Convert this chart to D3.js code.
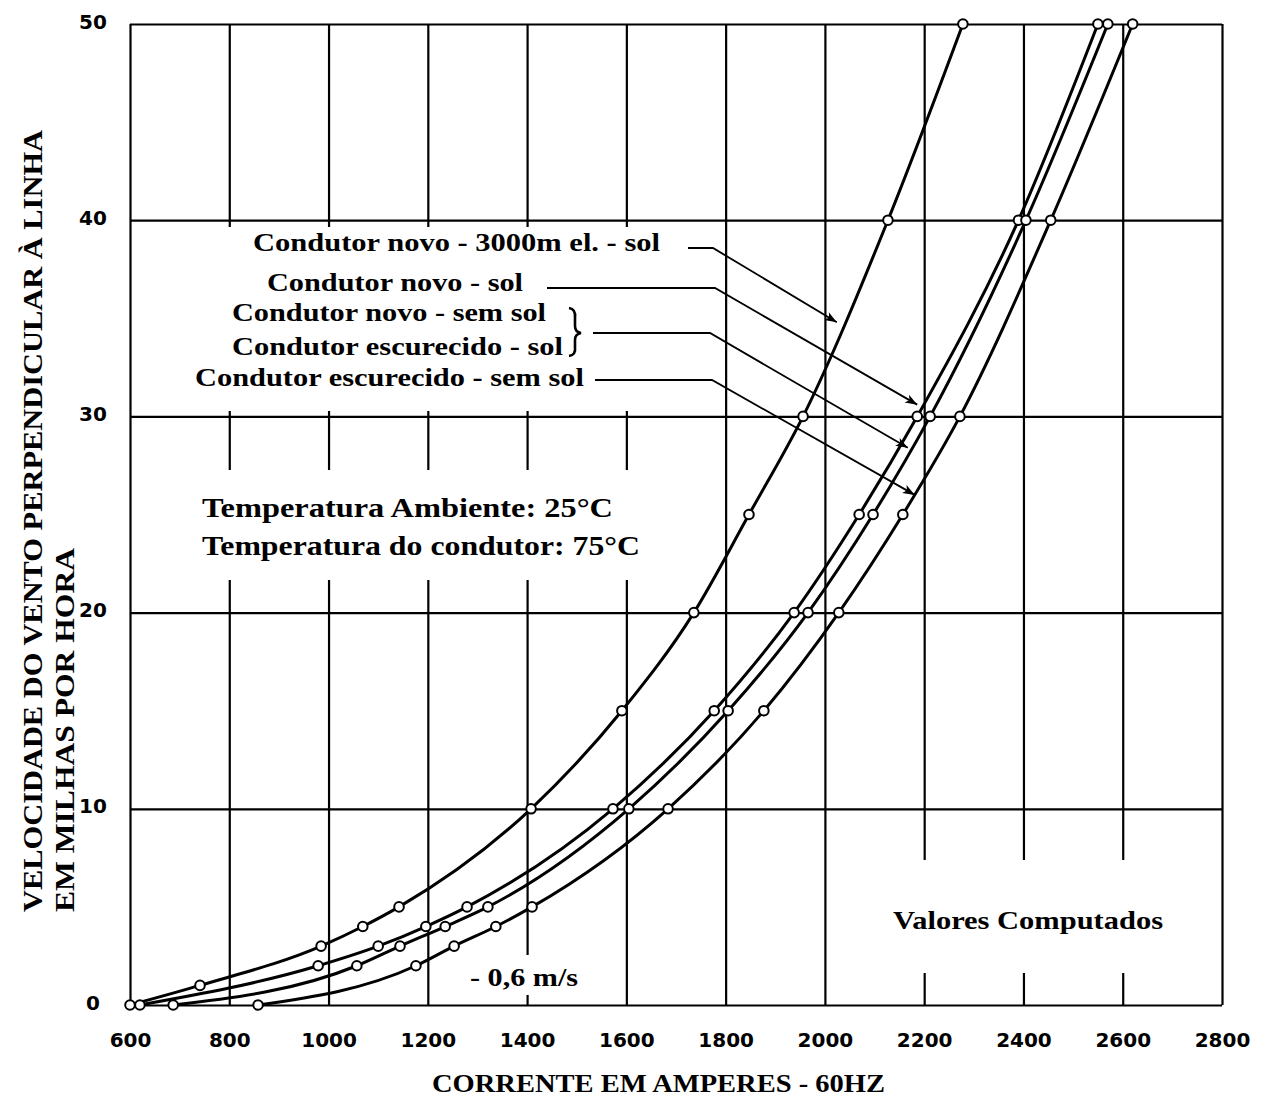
<!DOCTYPE html>
<html>
<head>
<meta charset="utf-8">
<script src="https://cdn.jsdelivr.net/npm/d3@7"></script>
<style>
  body { margin: 0; background: #fff; }
  svg { display: block; background: #fff; }
  .serif { font-family: "Times New Roman", Times, "Liberation Serif", Tinos, serif; font-weight: 700; fill: #000; }
  .tick text { font-family: "DejaVu Sans", sans-serif; font-weight: bold; font-size: 20px; fill: #000; }
</style>
</head>
<body>
<svg id="chart" width="1266" height="1097"></svg>
<script>
// Axis ticks
const currentTicks = [600, 800, 1000, 1200, 1400, 1600, 1800, 2000, 2200, 2400, 2600, 2800];
const speedTicks = [0, 10, 20, 30, 40, 50];

// Curve: new conductor, 3000 m elevation, with sun
const speedsA   = [0, 1, 3, 4, 5, 10, 15, 20, 25, 30, 40, 50];
const currentsA = [600, 741, 985, 1069, 1142, 1408, 1591, 1736, 1847, 1956, 2127, 2278];

// Curve: new conductor, with sun
const speedsB   = [0, 2, 3, 4, 5, 10, 15, 20, 25, 30, 40, 50];
const currentsB = [620, 979, 1100, 1196, 1279, 1573, 1777, 1938, 2069, 2186, 2390, 2550];

// Curve: new conductor without sun / darkened conductor with sun
const speedsC   = [0, 2, 3, 4, 5, 10, 15, 20, 25, 30, 40, 50];
const currentsC = [687, 1057, 1144, 1235, 1321, 1605, 1805, 1966, 2097, 2212, 2405, 2570];

// Curve: darkened conductor, without sun
const speedsD   = [0, 2, 3, 4, 5, 10, 15, 20, 25, 30, 40, 50];
const currentsD = [858, 1176, 1253, 1337, 1410, 1684, 1877, 2028, 2157, 2272, 2455, 2620];

const legendLabels = [
  "Condutor novo - 3000m el. - sol",
  "Condutor novo - sol",
  "Condutor novo - sem sol",
  "Condutor escurecido - sol",
  "Condutor escurecido - sem sol"
];

// Arrow targets (current, speed) for each leader line
const arrowCurrents = [2024, 2186, 2167, 2181];
const arrowSpeeds   = [34.8, 30.6, 28.4, 26.0];

const xTitle = "CORRENTE EM AMPERES - 60HZ";
const yTitleLines = ["VELOCIDADE DO VENTO PERPENDICULAR À LINHA", "EM MILHAS POR HORA"];
const noteLines = ["Temperatura Ambiente: 25°C", "Temperatura do condutor: 75°C"];
const computedLabel = "Valores Computados";
const speedNote = "- 0,6 m/s";

const svg = d3.select("#chart");
const x = d3.scaleLinear().domain([600, 2800]).range([130, 1222]);
const y = d3.scaleLinear().domain([0, 50]).range([1005, 24]);

// Arrowhead
svg.append("defs").append("marker")
  .attr("id", "arrowhead")
  .attr("viewBox", "0 0 12 10")
  .attr("refX", 12).attr("refY", 5)
  .attr("markerWidth", 13).attr("markerHeight", 10)
  .attr("markerUnits", "userSpaceOnUse")
  .attr("orient", "auto")
  .append("path").attr("d", "M0,0.5 L12,5 L0,9.5 L3,5 Z").attr("fill", "#000");

// Grid lines + tick labels from the axes
const gx = svg.append("g")
  .attr("transform", `translate(0,${y(0)})`)
  .call(d3.axisBottom(x).tickValues(currentTicks).tickFormat(d3.format("d"))
    .tickSize(-(y(0) - y(50))).tickSizeOuter(0));
gx.select(".domain").remove();
gx.selectAll(".tick line").attr("stroke", "#000").attr("stroke-width", 2.2);
gx.selectAll(".tick text").attr("y", 35).attr("dy", "0.36em");

const gy = svg.append("g")
  .attr("transform", `translate(${x(600)},0)`)
  .call(d3.axisLeft(y).tickValues(speedTicks).tickFormat(d3.format("d"))
    .tickSize(-(x(2800) - x(600))).tickSizeOuter(0));
gy.select(".domain").remove();
gy.selectAll(".tick line").attr("stroke", "#000").attr("stroke-width", 2.2);
gy.selectAll(".tick text").attr("x", -37).attr("text-anchor", "middle").attr("dy", "0.2em");

// White panels behind the annotation texts
const panels = [
  [134, 227, 566, 184],   // legend block
  [180, 470, 480, 110],   // temperatures
  [458, 955, 142, 40],    // 0,6 m/s note
  [832, 860, 385, 113]    // computed values
];
svg.append("g").selectAll("rect").data(panels).join("rect")
  .attr("x", d => d[0]).attr("y", d => d[1])
  .attr("width", d => d[2]).attr("height", d => d[3])
  .attr("fill", "#fff");

// Curves and points
const series = [
  [speedsA, currentsA],
  [speedsB, currentsB],
  [speedsC, currentsC],
  [speedsD, currentsD]
].map(([s, c]) => c.map((v, i) => ({ current: v, speed: s[i] })));

const line = d3.line()
  .x(d => x(d.current))
  .y(d => y(d.speed))
  .curve(d3.curveMonotoneX);

svg.append("g").selectAll("path").data(series).join("path")
  .attr("d", line)
  .attr("fill", "none")
  .attr("stroke", "#000")
  .attr("stroke-width", 3);

svg.append("g").selectAll("g").data(series).join("g")
  .selectAll("circle").data(d => d).join("circle")
  .attr("cx", d => x(d.current))
  .attr("cy", d => y(d.speed))
  .attr("r", 4.8)
  .attr("fill", "#fff")
  .attr("stroke", "#000")
  .attr("stroke-width", 2);

// Legend texts
const legendLayout = [
  { x: 660, y: 251, w: 407 },
  { x: 523, y: 291, w: 256 },
  { x: 546, y: 321, w: 314 },
  { x: 563, y: 355, w: 331 },
  { x: 584, y: 386, w: 389 }
];
svg.append("g").selectAll("text").data(legendLabels).join("text")
  .attr("class", "serif")
  .attr("x", (d, i) => legendLayout[i].x)
  .attr("y", (d, i) => legendLayout[i].y)
  .attr("text-anchor", "end")
  .attr("font-size", 26)
  .attr("textLength", (d, i) => legendLayout[i].w)
  .attr("lengthAdjust", "spacingAndGlyphs")
  .text(d => d);

// Brace grouping the two middle labels
svg.append("path")
  .attr("d", "M569,308 Q576,309 575,318 L575,326 Q575,332 581,333 Q575,334 575,340 L575,347 Q576,355 569,356")
  .attr("fill", "none").attr("stroke", "#000").attr("stroke-width", 2.6);

// Leader lines with arrows
const leaderStarts = [[688, 248, 713], [547, 288, 715], [593, 333, 710], [595, 380, 712]];
svg.append("g").selectAll("path").data(leaderStarts).join("path")
  .attr("d", (d, i) => `M${d[0]},${d[1]} L${d[2]},${d[1]} L${x(arrowCurrents[i])},${y(arrowSpeeds[i])}`)
  .attr("fill", "none")
  .attr("stroke", "#000")
  .attr("stroke-width", 1.8)
  .attr("marker-end", "url(#arrowhead)");

// Temperature notes
const noteLayout = [{ y: 517, w: 411 }, { y: 555, w: 438 }];
svg.append("g").selectAll("text").data(noteLines).join("text")
  .attr("class", "serif")
  .attr("x", 202)
  .attr("y", (d, i) => noteLayout[i].y)
  .attr("font-size", 27)
  .attr("textLength", (d, i) => noteLayout[i].w)
  .attr("lengthAdjust", "spacingAndGlyphs")
  .text(d => d);

svg.append("text").attr("class", "serif")
  .attr("x", 893).attr("y", 929).attr("font-size", 26)
  .attr("textLength", 270).attr("lengthAdjust", "spacingAndGlyphs")
  .text(computedLabel);

svg.append("text").attr("class", "serif")
  .attr("x", 470).attr("y", 986).attr("font-size", 26)
  .attr("textLength", 108).attr("lengthAdjust", "spacingAndGlyphs")
  .text(speedNote);

// Axis titles
svg.append("text").attr("class", "serif")
  .attr("x", 432).attr("y", 1092).attr("font-size", 26)
  .attr("textLength", 453).attr("lengthAdjust", "spacingAndGlyphs")
  .text(xTitle);

const yTitleLayout = [{ x: 42, w: 782 }, { x: 74, w: 364 }];
svg.append("g").selectAll("text").data(yTitleLines).join("text")
  .attr("class", "serif")
  .attr("transform", (d, i) => `translate(${yTitleLayout[i].x},912) rotate(-90)`)
  .attr("font-size", 27)
  .attr("textLength", (d, i) => yTitleLayout[i].w)
  .attr("lengthAdjust", "spacingAndGlyphs")
  .text(d => d);
</script>
</body>
</html>
